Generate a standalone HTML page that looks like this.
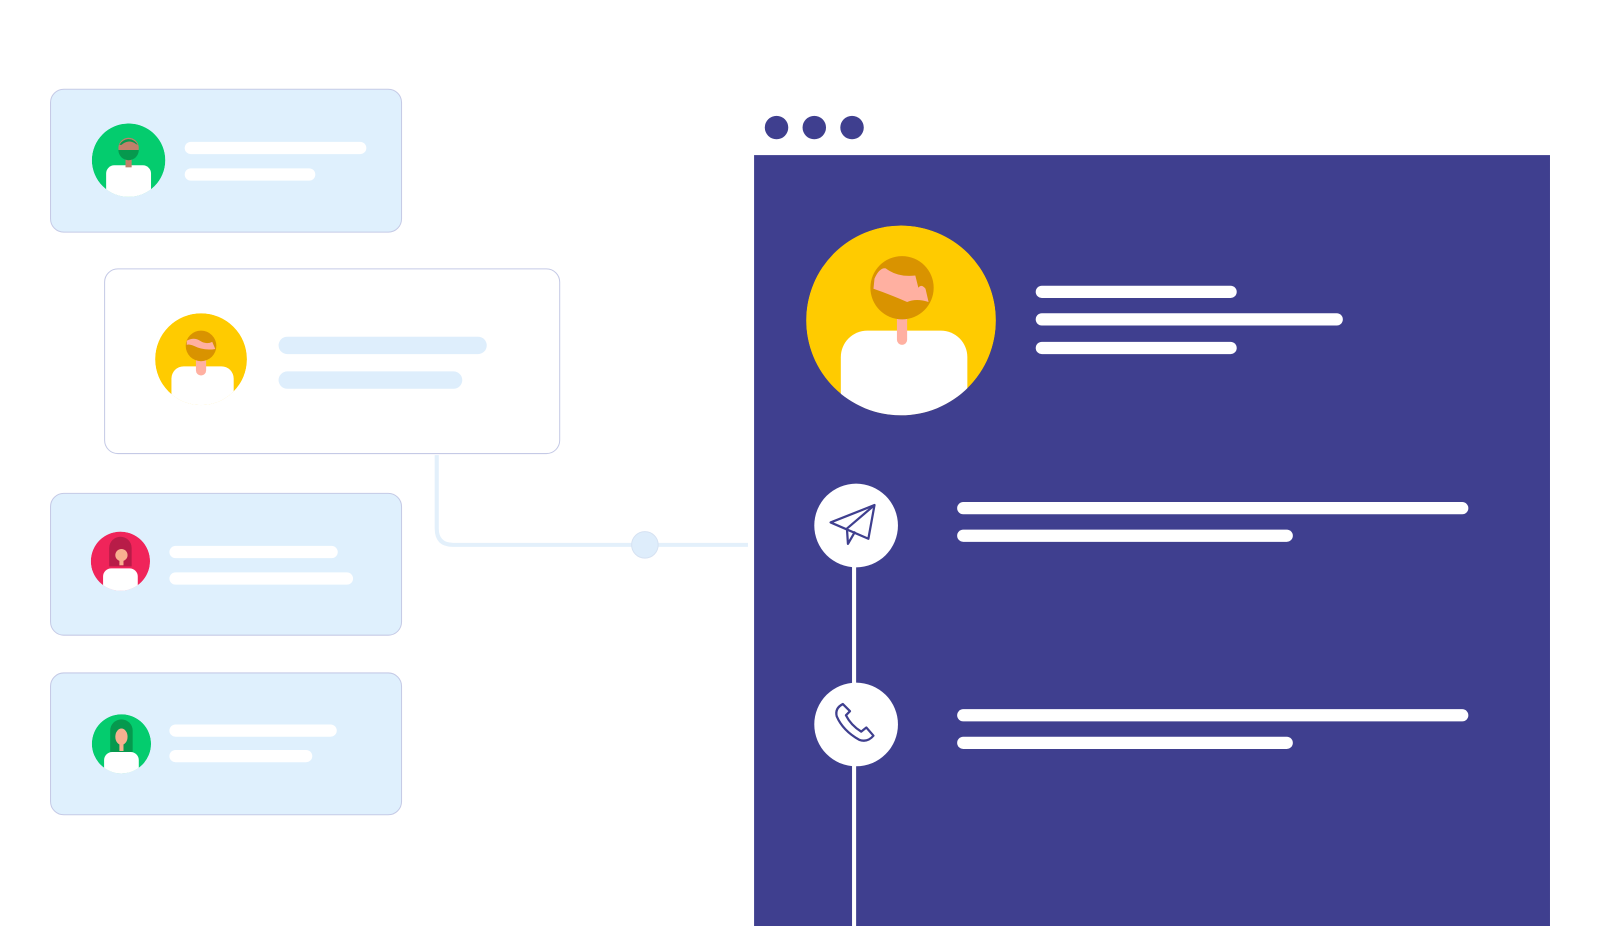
<!DOCTYPE html>
<html><head><meta charset="utf-8"><style>
html,body{margin:0;padding:0;background:#fff;}
svg{display:block;}
</style></head><body>
<svg width="1600" height="926" viewBox="0 0 1568 907.5" xmlns="http://www.w3.org/2000/svg">
<defs>
<clipPath id="c1"><circle cx="126" cy="157" r="36"/></clipPath>
<clipPath id="c2"><circle cx="197" cy="352" r="45"/></clipPath>
<clipPath id="c3"><circle cx="118" cy="550" r="29"/></clipPath>
<clipPath id="c4"><circle cx="119" cy="729" r="29"/></clipPath>
<clipPath id="c5"><circle cx="883" cy="314" r="93"/></clipPath>
</defs>
<rect width="1568" height="907.5" fill="#fff"/>

<!-- connector -->
<path d="M428 446 V518 Q428 534 444 534 H733" fill="none" stroke="#e3f0fb" stroke-width="4"/>
<circle cx="632" cy="534" r="13" fill="#deedfb" stroke="#d6e2f2" stroke-width="1"/>

<!-- card1 -->
<rect x="49.5" y="87.5" width="344" height="140" rx="13" fill="#dff0fd" stroke="#c5cae6"/>
<g clip-path="url(#c1)">
<circle cx="126" cy="157" r="36" fill="#04cc6e"/>
<rect x="104" y="162" width="44" height="40" rx="8" fill="#fff"/>
<rect x="123" y="150" width="6" height="14" fill="#c0806a"/>
<circle cx="126" cy="145" r="10" fill="#c0806a"/>
<path d="M116 147 H136 A10 10 0 0 1 116 147Z" fill="#06994e"/>
<path d="M117 142 A10 10 0 0 1 135 142 L133 141 Q126 136 119 142Z" fill="#06994e"/>
</g>
<rect x="181" y="139" width="178" height="12" rx="6" fill="#fff"/>
<rect x="181" y="165" width="128" height="12" rx="6" fill="#fff"/>

<!-- card2 -->
<rect x="102.5" y="263.5" width="446" height="181" rx="13" fill="#fff" stroke="#c5cae6"/>
<g clip-path="url(#c2)">
<circle cx="197" cy="352" r="45" fill="#ffcb00"/>
<rect x="168" y="359" width="61" height="50" rx="12" fill="#fff"/>
<rect x="192" y="345" width="10" height="23" rx="5" fill="#ffb0a1"/>
<circle cx="197" cy="339" r="15" fill="#d99300"/>
<path d="M183 334 Q190 330 196 334 Q202 338 208 335 L211 342 Q200 344 190 339 Q185 337 183 338Z" fill="#ffb0a1"/>
</g>
<rect x="273" y="330" width="204" height="17" rx="8.5" fill="#deeefc"/>
<rect x="273" y="364" width="180" height="17" rx="8.5" fill="#deeefc"/>

<!-- card3 -->
<rect x="49.5" y="483.5" width="344" height="139" rx="13" fill="#dff0fd" stroke="#c5cae6"/>
<g clip-path="url(#c3)">
<circle cx="118" cy="550" r="29" fill="#f0245a"/>
<path d="M107 555 V537 A11 11 0 0 1 129 537 V555Z" fill="#b81c48"/>
<rect x="101" y="557" width="34" height="30" rx="8" fill="#fff"/>
<circle cx="119" cy="544" r="6" fill="#f8b090"/>
<rect x="117" y="546" width="4" height="8" fill="#f8b090"/>
</g>
<rect x="166" y="535" width="165" height="12" rx="6" fill="#fff"/>
<rect x="166" y="561" width="180" height="12" rx="6" fill="#fff"/>

<!-- card4 -->
<rect x="49.5" y="659.5" width="344" height="139" rx="13" fill="#dff0fd" stroke="#c5cae6"/>
<g clip-path="url(#c4)">
<circle cx="119" cy="729" r="29" fill="#04cc6e"/>
<path d="M108 737 V716 A11 11 0 0 1 130 716 V737Z" fill="#06994e"/>
<rect x="102" y="737" width="34" height="30" rx="8" fill="#fff"/>
<ellipse cx="119" cy="722" rx="6" ry="8" fill="#f8b090"/>
<rect x="117" y="726" width="4" height="10" fill="#f8b090"/>
</g>
<rect x="166" y="710" width="164" height="12" rx="6" fill="#fff"/>
<rect x="166" y="735" width="140" height="12" rx="6" fill="#fff"/>

<!-- browser -->
<circle cx="761" cy="125" r="11.5" fill="#3f3f8f"/>
<circle cx="798" cy="125" r="11.5" fill="#3f3f8f"/>
<circle cx="835" cy="125" r="11.5" fill="#3f3f8f"/>
<rect x="739" y="152" width="780" height="760" fill="#3f3f8f"/>

<g clip-path="url(#c5)">
<circle cx="883" cy="314" r="93" fill="#ffcb00"/>
<rect x="824" y="324" width="124" height="110" rx="26" fill="#fff"/>
<rect x="879" y="300" width="10" height="38" rx="5" fill="#ffb0a1"/>
<circle cx="884" cy="282" r="31" fill="#d99300"/>
<path d="M857 273 Q862 262 868 263 Q880 272 897 270 L900 282 Q903 278 907 283 L910 296 Q898 292 889 296 Q876 290 856 283Z" fill="#ffb0a1"/>
</g>
<rect x="1015" y="280" width="197" height="12" rx="6" fill="#fff"/>
<rect x="1015" y="307" width="301" height="12" rx="6" fill="#fff"/>
<rect x="1015" y="335" width="197" height="12" rx="6" fill="#fff"/>

<!-- timeline -->
<line x1="837" y1="540" x2="837" y2="910" stroke="#fff" stroke-width="4"/>
<circle cx="839" cy="515" r="41" fill="#fff"/>
<circle cx="839" cy="710" r="41" fill="#fff"/>
<g fill="none" stroke="#3f3f8f" stroke-width="2.2" stroke-linejoin="round">
<path d="M814 512 L857 495 L851 528 Z"/>
<path d="M857 495 L830 518 L831 533 L838 521"/>
</g>
<path d="M826 690 Q818 694 820 702 Q826 716 842 725 Q850 728 856 721 L849 713 L844 717 Q834 711 829 701 L833 697 Z" fill="none" stroke="#3f3f8f" stroke-width="2.2" stroke-linejoin="round"/>

<rect x="938" y="492" width="501" height="12" rx="6" fill="#fff"/>
<rect x="938" y="519" width="329" height="12" rx="6" fill="#fff"/>
<rect x="938" y="695" width="501" height="12" rx="6" fill="#fff"/>
<rect x="938" y="722" width="329" height="12" rx="6" fill="#fff"/>
</svg>
</body></html>
